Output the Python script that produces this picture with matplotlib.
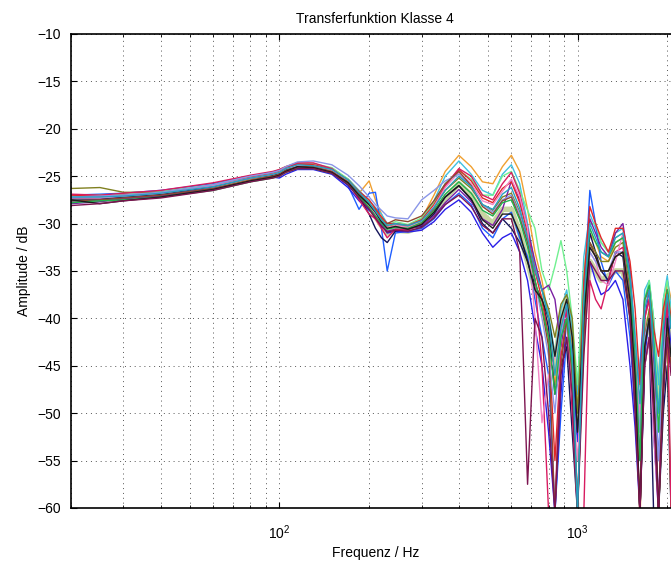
import matplotlib
matplotlib.use("Agg")
import matplotlib.pyplot as plt
from matplotlib.ticker import LogLocator, NullFormatter, MultipleLocator

# frequency points (Hz)
freq = [20, 25, 30, 40, 60, 80, 95, 100, 105, 115, 130, 150, 170, 185, 200, 210,
        220, 230, 245, 270, 300, 330, 360, 400, 440, 480, 520, 560, 600, 640, 680, 720,
        760, 800, 840, 880, 920, 960, 1000, 1050, 1100, 1150, 1200, 1270, 1340, 1420, 1500, 1560,
        1620, 1680, 1740, 1800, 1870, 1940, 2000, 2060]

orange = [-27.0, -27.0, -26.9, -26.6, -25.8, -25.0, -24.6, -24.3,
          -24.0, -23.6, -23.7, -24.2, -25.5, -26.8, -25.5, -27.5,
          -29.0, -30.5, -30.0, -30.2, -29.5, -27.0, -24.5, -22.8,
          -24.0, -25.6, -25.8, -24.0, -22.8, -24.5, -28.5, -33.0,
          -36.0, -40.0, -47.0, -41.0, -38.0, -43.0, -60.5, -37.0,
          -31.0, -32.0, -33.5, -34.0, -32.0, -31.5, -36.0, -45.0,
          -62.0, -40.0, -38.0, -42.0, -62.0, -40.0, -36.0, -38.0]
cyan = [-27.3, -27.2, -27.0, -26.7, -25.9, -25.1, -24.7, -24.4,
        -24.1, -23.7, -23.8, -24.3, -25.3, -26.5, -27.6, -28.3,
        -29.0, -30.0, -30.1, -30.3, -29.6, -27.6, -25.0, -23.4,
        -24.8, -26.5, -27.0, -24.8, -23.8, -25.8, -30.0, -34.5,
        -37.0, -39.5, -44.0, -39.0, -37.0, -41.0, -48.0, -33.5,
        -29.0, -30.5, -32.0, -33.0, -31.0, -30.5, -35.0, -42.0,
        -50.0, -37.0, -36.0, -40.0, -47.0, -38.0, -35.5, -39.0]
blue = [-27.0, -26.9, -26.8, -26.5, -25.8, -25.0, -24.7, -24.8,
        -24.3, -23.9, -24.0, -24.6, -26.0, -28.5, -26.8, -26.7,
        -30.5, -35.0, -31.0, -30.8, -30.5, -29.5, -28.0, -26.8,
        -28.0, -30.5, -31.5, -29.5, -28.8, -31.5, -33.5, -38.0,
        -42.0, -46.0, -60.5, -50.0, -42.0, -45.0, -60.5, -38.0,
        -26.5, -30.0, -34.0, -36.5, -35.0, -36.0, -42.0, -50.0,
        -45.0, -38.0, -37.0, -45.0, -55.0, -42.0, -37.0, -41.0]
violet = [-27.6, -27.5, -27.3, -27.0, -26.3, -25.5, -25.1, -25.2,
          -24.8, -24.3, -24.3, -24.8, -26.2, -27.6, -28.6, -29.0,
          -30.0, -31.0, -30.8, -30.9, -30.7, -29.8, -28.5, -27.5,
          -28.8, -31.0, -32.5, -31.5, -31.0, -33.0, -36.0, -41.0,
          -45.0, -52.0, -60.5, -48.0, -40.0, -44.0, -53.0, -40.0,
          -34.0, -36.0, -37.5, -37.0, -36.0, -38.0, -45.0, -51.5,
          -60.5, -44.0, -40.0, -52.0, -60.5, -45.0, -39.0, -43.0]
navy = [-27.4, -27.4, -27.2, -26.9, -26.1, -25.2, -24.9, -24.7,
        -24.4, -24.0, -24.1, -24.6, -25.9, -27.2, -29.0, -30.5,
        -31.5, -32.0, -30.8, -30.5, -30.3, -29.0, -27.2, -26.0,
        -27.5, -30.0, -31.0, -29.5, -30.5, -32.0, -34.0, -36.5,
        -38.0, -41.0, -48.0, -45.0, -43.0, -52.0, -60.5, -40.0,
        -31.0, -33.0, -35.0, -36.0, -33.0, -33.5, -40.0, -48.0,
        -60.5, -45.0, -42.0, -60.5, -60.5, -50.0, -45.0, -60.5]
lightgreen = [-27.1, -27.0, -26.9, -26.6, -25.9, -25.0, -24.6, -24.5,
              -24.1, -23.7, -23.7, -24.1, -25.3, -26.6, -27.8, -28.8,
              -29.6, -30.2, -29.8, -30.1, -29.4, -27.8, -25.8, -24.4,
              -25.3, -27.0, -27.0, -25.0, -24.5, -26.5, -28.6, -30.5,
              -35.0, -37.0, -34.5, -31.8, -35.0, -40.0, -47.0, -35.0,
              -30.0, -30.0, -32.0, -33.0, -31.5, -31.0, -36.0, -42.0,
              -52.0, -38.0, -36.0, -40.0, -50.0, -38.0, -36.0, -40.0]
khaki = [-27.5, -27.4, -27.3, -27.0, -26.2, -25.3, -24.9, -24.7,
         -24.4, -24.0, -24.0, -24.4, -25.6, -27.0, -28.2, -29.2,
         -30.2, -31.0, -30.7, -30.8, -30.3, -29.0, -27.3, -25.8,
         -27.0, -29.0, -30.0, -28.5, -28.5, -31.0, -34.0, -37.0,
         -38.0, -41.0, -45.0, -40.0, -38.0, -44.0, -52.0, -40.0,
         -34.0, -35.0, -36.0, -35.5, -35.0, -35.0, -38.0, -44.0,
         -47.0, -42.0, -40.0, -44.0, -48.0, -42.0, -40.0, -44.0]
olive = [-26.3, -26.2, -26.7, -26.7, -26.0, -25.2, -24.8, -24.6,
         -24.2, -23.8, -23.9, -24.4, -25.6, -26.9, -27.9, -28.6,
         -29.5, -30.3, -30.2, -30.4, -29.8, -28.3, -26.5, -25.2,
         -26.3, -28.0, -28.6, -27.2, -26.8, -28.8, -31.5, -35.0,
         -37.0, -39.0, -42.0, -38.5, -37.5, -40.0, -50.0, -37.0,
         -32.0, -33.0, -34.0, -34.0, -32.5, -32.0, -37.0, -47.0,
         -60.5, -42.0, -39.0, -45.0, -60.5, -48.0, -42.0, -60.5]
purple = [-27.9, -27.7, -27.4, -27.1, -26.4, -25.5, -25.1, -24.9,
          -24.5, -24.1, -24.1, -24.5, -25.7, -27.0, -28.4, -29.5,
          -30.2, -30.8, -30.6, -30.6, -30.2, -29.2, -27.8, -26.4,
          -27.7, -29.5, -30.2, -28.5, -25.5, -27.5, -30.5, -34.0,
          -37.0, -36.5, -38.0, -43.0, -39.0, -47.0, -60.5, -38.0,
          -29.5, -31.0, -32.5, -33.5, -31.0, -30.0, -35.0, -44.0,
          -55.0, -40.0, -37.0, -43.0, -60.5, -42.0, -38.0, -41.0]
red = [-27.0, -27.1, -27.0, -26.8, -26.0, -25.1, -24.7, -24.5,
       -24.1, -23.7, -23.8, -24.3, -25.4, -26.6, -27.5, -28.4,
       -29.3, -30.0, -30.0, -30.2, -29.6, -28.0, -26.0, -24.3,
       -25.5, -27.3, -27.8, -26.3, -25.6, -27.8, -31.0, -35.0,
       -38.0, -42.0, -55.0, -44.0, -40.0, -46.0, -60.5, -36.0,
       -28.2, -30.0, -31.5, -33.0, -30.5, -30.5, -34.0, -39.0,
       -47.0, -38.0, -37.0, -41.0, -44.0, -39.0, -37.0, -40.0]
crimson = [-26.9, -27.0, -26.8, -26.5, -25.7, -24.9, -24.5, -24.3,
           -24.0, -23.6, -23.6, -24.2, -25.6, -27.5, -29.0, -29.5,
           -30.5, -31.5, -30.6, -30.7, -30.0, -28.4, -26.0, -24.2,
           -25.0, -27.0, -27.5, -25.8, -24.6, -26.8, -30.5, -36.0,
           -45.0, -60.5, -60.5, -42.0, -39.0, -50.0, -60.5, -60.5,
           -36.0, -38.0, -39.0, -36.0, -33.0, -32.5, -38.0, -46.0,
           -60.5, -40.0, -38.0, -48.0, -60.5, -45.0, -38.0, -60.5]
pink = [-27.3, -27.3, -27.1, -26.8, -26.0, -25.2, -24.8, -24.6,
        -24.2, -23.9, -23.9, -24.4, -25.5, -26.9, -28.0, -29.0,
        -29.8, -30.4, -30.2, -30.4, -29.8, -28.2, -26.2, -24.6,
        -25.8, -27.6, -28.0, -26.6, -25.3, -27.2, -30.5, -40.0,
        -51.0, -46.0, -44.0, -40.0, -40.0, -48.0, -55.0, -42.0,
        -33.0, -34.0, -36.0, -36.5, -34.0, -31.0, -36.0, -43.0,
        -50.0, -45.0, -42.0, -52.0, -60.5, -46.0, -41.0, -45.0]
lavender = [-27.2, -27.1, -27.0, -26.7, -25.9, -25.0, -24.6, -24.4,
            -24.0, -23.5, -23.4, -23.8, -24.9, -26.0, -27.2, -28.0,
            -28.6, -29.2, -29.4, -29.5, -27.5, -26.5, -25.5, -24.8,
            -26.0, -28.0, -28.8, -27.5, -27.0, -29.0, -32.0, -36.0,
            -40.0, -44.0, -50.0, -42.0, -38.0, -45.0, -60.5, -40.0,
            -33.0, -34.0, -35.0, -35.0, -33.0, -33.0, -38.0, -45.0,
            -52.0, -42.0, -40.0, -46.0, -55.0, -44.0, -40.0, -44.0]
brown = [-27.6, -27.5, -27.3, -27.0, -26.3, -25.4, -25.0, -24.8,
         -24.4, -24.0, -24.0, -24.5, -25.6, -26.8, -28.0, -28.6,
         -29.8, -30.0, -29.6, -29.8, -29.2, -27.6, -25.8, -24.5,
         -26.0, -28.2, -29.0, -27.6, -27.2, -29.4, -32.0, -36.0,
         -39.0, -43.0, -60.5, -45.0, -40.0, -46.0, -60.5, -42.0,
         -32.0, -33.5, -35.0, -35.0, -33.5, -33.0, -39.0, -48.0,
         -60.5, -43.0, -40.0, -47.0, -60.5, -46.0, -41.0, -45.0]
green = [-27.8, -27.6, -27.5, -27.2, -26.5, -25.6, -25.2, -25.0,
         -24.6, -24.2, -24.2, -24.7, -25.8, -27.1, -28.3, -29.2,
         -30.0, -30.6, -30.4, -30.5, -29.9, -28.6, -26.9, -25.6,
         -26.8, -28.6, -29.2, -27.8, -27.5, -29.6, -32.5, -36.0,
         -39.0, -42.0, -48.0, -42.0, -40.0, -45.0, -60.5, -39.0,
         -30.5, -32.0, -33.0, -33.5, -32.0, -31.5, -36.0, -44.0,
         -55.0, -38.0, -36.5, -42.0, -52.0, -41.0, -37.0, -41.0]
black = [-27.5, -27.9, -27.6, -27.2, -26.4, -25.5, -25.1, -24.9,
         -24.5, -24.0, -24.1, -24.6, -25.7, -27.0, -28.0, -28.8,
         -29.8, -30.5, -30.3, -30.6, -30.1, -28.8, -27.2, -26.0,
         -27.4, -29.6, -30.5, -29.0, -29.0, -31.0, -34.0, -37.0,
         -38.0, -40.0, -44.0, -40.0, -38.0, -42.0, -52.0, -40.0,
         -32.5, -33.5, -35.0, -35.0, -33.5, -33.0, -38.0, -46.0,
         -60.5, -43.0, -40.0, -48.0, -60.5, -48.0, -40.0, -44.0]
plum = [-28.1, -27.9, -27.6, -27.3, -26.5, -25.6, -25.2, -25.0,
        -24.6, -24.2, -24.2, -24.7, -25.9, -27.3, -28.5, -29.4,
        -30.3, -30.9, -30.7, -30.8, -30.4, -29.4, -28.0, -27.0,
        -28.2, -30.2, -31.0, -29.5, -29.5, -33.0, -57.5, -40.0,
        -42.0, -50.0, -60.5, -46.0, -42.0, -48.0, -60.5, -44.0,
        -34.0, -35.0, -36.0, -36.0, -35.0, -35.0, -40.0, -50.0,
        -60.5, -45.0, -42.0, -50.0, -60.5, -48.0, -42.0, -46.0]
teal = [-27.2, -27.2, -27.1, -26.8, -26.1, -25.2, -24.8, -24.6,
        -24.2, -23.8, -23.9, -24.3, -25.4, -26.7, -27.8, -28.7,
        -29.6, -30.2, -30.0, -30.2, -29.7, -28.3, -26.5, -25.0,
        -26.1, -28.0, -28.5, -26.9, -26.2, -28.4, -31.5, -35.0,
        -37.0, -40.0, -46.0, -41.0, -38.5, -44.0, -60.5, -38.0,
        -30.0, -31.5, -33.0, -33.5, -31.5, -31.0, -35.5, -42.0,
        -49.0, -39.0, -37.0, -43.0, -50.0, -41.0, -37.5, -41.0]

curves = [khaki, orange, cyan, blue, violet, navy, lightgreen, olive, purple,
          red, crimson, pink, lavender, brown, green, black, plum, teal]
colors = ["#c7d5a1", "#f0a030", "#40c0e0", "#1f5fff", "#2a1ee8", "#14145a",
          "#70f090", "#808020", "#7b1fa2", "#e02828", "#d81b60", "#f285c5",
          "#8a96e8", "#8c4a2f", "#22b24c", "#1c1c1c", "#7d1450", "#26a0c0"]
widths = [4.0] + [1.0] * 17

plt.rcParams["font.family"] = ["Liberation Sans", "DejaVu Sans"]
plt.rcParams["mathtext.default"] = "regular"
plt.rcParams["font.size"] = 10

fig = plt.figure(figsize=(6.71, 5.63), dpi=100)
ax = fig.add_axes([0.1058, 0.0977, 0.907, 0.842])

for values, col, lw in zip(curves, colors, widths):
    ax.plot(freq, values, color=col, linewidth=lw)

ax.set_xscale("log")
ax.set_xlim(20, 2200)
ax.set_ylim(-60, -10)
ax.yaxis.set_major_locator(MultipleLocator(5))
ax.xaxis.set_major_locator(LogLocator(base=10))
ax.xaxis.set_minor_locator(LogLocator(base=10, subs=range(2, 10)))
ax.xaxis.set_minor_formatter(NullFormatter())

ax.grid(True, which="major", linestyle=(0, (1, 4)), color="#555555", linewidth=0.7)
ax.grid(True, which="minor", axis="x", linestyle=(0, (1, 4)), color="#555555", linewidth=0.7)
ax.tick_params(which="both", direction="in", top=True, right=True)
ax.tick_params(which="major", length=4, width=0.8)
ax.tick_params(axis="y", which="major", pad=7)
ax.tick_params(axis="x", which="major", pad=11)
ax.tick_params(which="minor", length=2.5, width=0.6)
for side in ax.spines.values():
    side.set_linewidth(1.2)

ax.set_title("Transferfunktion Klasse 4", fontsize=10, pad=8)
ax.set_xlabel("Frequenz / Hz", labelpad=3)
ax.set_ylabel("Amplitude / dB", labelpad=5)

fig.savefig("out.png", dpi=100)
